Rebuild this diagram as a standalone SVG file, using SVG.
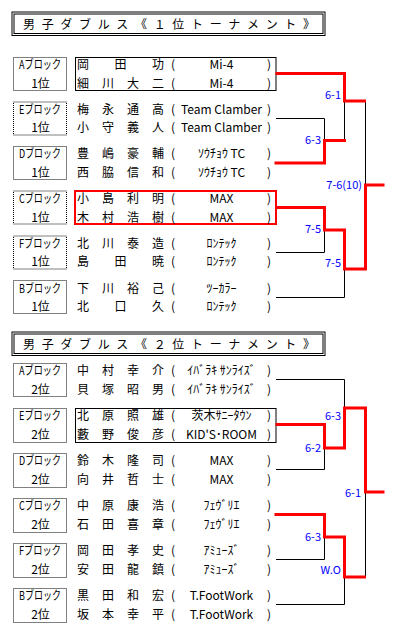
<svg xmlns="http://www.w3.org/2000/svg" width="407" height="631" viewBox="0 0 407 631">
<style>
text{font-family:"Noto Sans CJK JP","Noto Sans",sans-serif;font-size:12px;fill:#000}
.c{text-anchor:middle}
.lb{fill:none;stroke:#000;stroke-width:1;stroke-dasharray:1 1}
.bx{fill:none;stroke:#000;stroke-width:1}
.rbx{fill:none;stroke:#f00;stroke-width:2}
.tb{fill:none;stroke:#000;stroke-width:1}
.k{fill:none;stroke:#000;stroke-width:1}
.r{fill:none;stroke:#f00;stroke-width:3;stroke-linejoin:miter;stroke-linecap:square}
.sc{font-size:11px;fill:#00f;text-anchor:end}
</style>

<g id="title1">
<rect class="tb" x="12" y="12" width="313" height="23.5"/>
<rect class="tb" x="14" y="14" width="309" height="19.5"/>
<text x="23" y="28.5" textLength="292" lengthAdjust="spacing">男 子 ダ ブ ル ス 《 １ 位 ト ー ナ メ ン ト 》</text>
</g>

<g id="s1-A">
<rect class="lb" x="13.5" y="57.5" width="53" height="33"/>
<text class="c" x="40" y="69" textLength="42" lengthAdjust="spacingAndGlyphs">Aブロック</text>
<text class="c" x="40.5" y="87.5">1位</text>
<rect class="bx" x="75.5" y="57.5" width="200.5" height="33"/>
<text x="77" y="69" textLength="87">岡　田　功</text>
<text y="69"><tspan x="171">(</tspan><tspan class="c" x="221.5">Mi-4</tspan><tspan x="267">)</tspan></text>
<text x="77" y="87.5" textLength="87">細　川　大　二</text>
<text y="87.5"><tspan x="171">(</tspan><tspan class="c" x="221.5">Mi-4</tspan><tspan x="267">)</tspan></text>
</g>

<g id="s1-E">
<rect class="lb" x="13.5" y="102" width="53" height="33"/>
<text class="c" x="40" y="113.7" textLength="42" lengthAdjust="spacingAndGlyphs">Eブロック</text>
<text class="c" x="40.5" y="132.2">1位</text>
<text x="77" y="113.7" textLength="87">梅　永　通　高</text>
<text y="113.7"><tspan x="171">(</tspan><tspan class="c" x="221.5">Team Clamber</tspan><tspan x="267">)</tspan></text>
<text x="77" y="132.2" textLength="87">小　守　義　人</text>
<text y="132.2"><tspan x="171">(</tspan><tspan class="c" x="221.5">Team Clamber</tspan><tspan x="267">)</tspan></text>
</g>

<g id="s1-D">
<rect class="lb" x="13.5" y="146.5" width="53" height="33"/>
<text class="c" x="40" y="158.4" textLength="42" lengthAdjust="spacingAndGlyphs">Dブロック</text>
<text class="c" x="40.5" y="176.9">1位</text>
<text x="77" y="158.4" textLength="87">豊　嶋　豪　輔</text>
<text y="158.4"><tspan x="171">(</tspan><tspan class="c" x="221.5">ｿｳﾁｮｳ TC</tspan><tspan x="267">)</tspan></text>
<text x="77" y="176.9" textLength="87">西　脇　信　和</text>
<text y="176.9"><tspan x="171">(</tspan><tspan class="c" x="221.5">ｿｳﾁｮｳ TC</tspan><tspan x="267">)</tspan></text>
</g>

<g id="s1-C">
<rect class="lb" x="13.5" y="191" width="53" height="33"/>
<text class="c" x="40" y="203" textLength="42" lengthAdjust="spacingAndGlyphs">Cブロック</text>
<text class="c" x="40.5" y="221.5">1位</text>
<rect class="rbx" x="75" y="191" width="201" height="33"/>
<text x="77" y="203" textLength="87">小　島　利　明</text>
<text y="203"><tspan x="171">(</tspan><tspan class="c" x="221.5">MAX</tspan><tspan x="267">)</tspan></text>
<text x="77" y="221.5" textLength="87">木　村　浩　樹</text>
<text y="221.5"><tspan x="171">(</tspan><tspan class="c" x="221.5">MAX</tspan><tspan x="267">)</tspan></text>
</g>

<g id="s1-F">
<rect class="lb" x="13.5" y="236" width="53" height="33"/>
<text class="c" x="40" y="247.8" textLength="42" lengthAdjust="spacingAndGlyphs">Fブロック</text>
<text class="c" x="40.5" y="266.3">1位</text>
<text x="77" y="247.8" textLength="87">北　川　泰　造</text>
<text y="247.8"><tspan x="171">(</tspan><tspan class="c" x="221.5">ﾛﾝﾃｯｸ</tspan><tspan x="267">)</tspan></text>
<text x="77" y="266.3" textLength="87">島　田　暁</text>
<text y="266.3"><tspan x="171">(</tspan><tspan class="c" x="221.5">ﾛﾝﾃｯｸ</tspan><tspan x="267">)</tspan></text>
</g>

<g id="s1-B">
<rect class="lb" x="13.5" y="280.5" width="53" height="33"/>
<text class="c" x="40" y="292.5" textLength="42" lengthAdjust="spacingAndGlyphs">Bブロック</text>
<text class="c" x="40.5" y="311">1位</text>
<text x="77" y="292.5" textLength="87">下　川　裕　己</text>
<text y="292.5"><tspan x="171">(</tspan><tspan class="c" x="221.5">ﾂｰｶﾗｰ</tspan><tspan x="267">)</tspan></text>
<text x="77" y="311" textLength="87">北　口　久</text>
<text y="311"><tspan x="171">(</tspan><tspan class="c" x="221.5">ﾛﾝﾃｯｸ</tspan><tspan x="267">)</tspan></text>
</g>

<g id="title2">
<rect class="tb" x="12" y="332" width="313" height="23.5"/>
<rect class="tb" x="14" y="334" width="309" height="19.5"/>
<text x="23" y="348.5" textLength="292" lengthAdjust="spacing">男 子 ダ ブ ル ス 《 ２ 位 ト ー ナ メ ン ト 》</text>
</g>

<g id="s2-A">
<rect class="lb" x="13.5" y="363.5" width="53" height="33"/>
<text class="c" x="40" y="375" textLength="42" lengthAdjust="spacingAndGlyphs">Aブロック</text>
<text class="c" x="40.5" y="393.5">2位</text>
<text x="77" y="375" textLength="87">中　村　幸　介</text>
<text y="375"><tspan x="171">(</tspan><tspan class="c" x="221.5">ｲﾊﾞﾗｷ ｻﾝﾗｲｽﾞ</tspan><tspan x="267">)</tspan></text>
<text x="77" y="393.5" textLength="87">貝　塚　昭　男</text>
<text y="393.5"><tspan x="171">(</tspan><tspan class="c" x="221.5">ｲﾊﾞﾗｷ ｻﾝﾗｲｽﾞ</tspan><tspan x="267">)</tspan></text>
</g>

<g id="s2-E">
<rect class="lb" x="13.5" y="408.5" width="53" height="34"/>
<text class="c" x="40" y="420" textLength="42" lengthAdjust="spacingAndGlyphs">Eブロック</text>
<text class="c" x="40.5" y="438.5">2位</text>
<rect class="bx" x="75.5" y="408.5" width="200.5" height="34"/>
<text x="77" y="420" textLength="87">北　原　照　雄</text>
<text y="420"><tspan x="171">(</tspan><tspan class="c" x="221.5">茨木ｻﾆｰﾀｳﾝ</tspan><tspan x="267">)</tspan></text>
<text x="77" y="438.5" textLength="87">藪　野　俊　彦</text>
<text y="438.5"><tspan x="171">(</tspan><tspan class="c" x="221.5">KID'S･ROOM</tspan><tspan x="267">)</tspan></text>
</g>

<g id="s2-D">
<rect class="lb" x="13.5" y="453.5" width="53" height="34"/>
<text class="c" x="40" y="465" textLength="42" lengthAdjust="spacingAndGlyphs">Dブロック</text>
<text class="c" x="40.5" y="483.5">2位</text>
<text x="77" y="465" textLength="87">鈴　木　隆　司</text>
<text y="465"><tspan x="171">(</tspan><tspan class="c" x="221.5">MAX</tspan><tspan x="267">)</tspan></text>
<text x="77" y="483.5" textLength="87">向　井　哲　士</text>
<text y="483.5"><tspan x="171">(</tspan><tspan class="c" x="221.5">MAX</tspan><tspan x="267">)</tspan></text>
</g>

<g id="s2-C">
<rect class="lb" x="13.5" y="498.5" width="53" height="34"/>
<text class="c" x="40" y="510" textLength="42" lengthAdjust="spacingAndGlyphs">Cブロック</text>
<text class="c" x="40.5" y="528.5">2位</text>
<text x="77" y="510" textLength="87">中　原　康　浩</text>
<text y="510"><tspan x="171">(</tspan><tspan class="c" x="221.5">ﾌｪｳﾞﾘｴ</tspan><tspan x="267">)</tspan></text>
<text x="77" y="528.5" textLength="87">石　田　喜　章</text>
<text y="528.5"><tspan x="171">(</tspan><tspan class="c" x="221.5">ﾌｪｳﾞﾘｴ</tspan><tspan x="267">)</tspan></text>
</g>

<g id="s2-F">
<rect class="lb" x="13.5" y="543.5" width="53" height="34"/>
<text class="c" x="40" y="555" textLength="42" lengthAdjust="spacingAndGlyphs">Fブロック</text>
<text class="c" x="40.5" y="573.5">2位</text>
<text x="77" y="555" textLength="87">岡　田　孝　史</text>
<text y="555"><tspan x="171">(</tspan><tspan class="c" x="221.5">ｱﾐｭｰｽﾞ</tspan><tspan x="267">)</tspan></text>
<text x="77" y="573.5" textLength="87">安　田　龍　鎮</text>
<text y="573.5"><tspan x="171">(</tspan><tspan class="c" x="221.5">ｱﾐｭｰｽﾞ</tspan><tspan x="267">)</tspan></text>
</g>

<g id="s2-B">
<rect class="lb" x="13.5" y="588.5" width="53" height="34"/>
<text class="c" x="40" y="600" textLength="42" lengthAdjust="spacingAndGlyphs">Bブロック</text>
<text class="c" x="40.5" y="618.5">2位</text>
<text x="77" y="600" textLength="87">黒　田　和　宏</text>
<text y="600"><tspan x="171">(</tspan><tspan class="c" x="221.5">T.FootWork</tspan><tspan x="267">)</tspan></text>
<text x="77" y="618.5" textLength="87">坂　本　幸　平</text>
<text y="618.5"><tspan x="171">(</tspan><tspan class="c" x="221.5">T.FootWork</tspan><tspan x="267">)</tspan></text>
</g>

<g id="connectors">
<path class="k" d="M276 118.5H324.5V140.5"/>
<path class="k" d="M344.5 101V140.5"/>
<path class="k" d="M276 252.5H324.5V230"/>
<path class="k" d="M276 297.5H344.5V269"/>
<path class="k" d="M365.5 101V185"/>
<path class="r" d="M277 73.5H344.5V101H364.5"/>
<path class="r" d="M276 163H324.5V140.5H344.5"/>
<path class="r" d="M277 207.5H324.5V230H344.5V269H365.5V185H383"/>

<path class="k" d="M276 379.5H344.5V408"/>
<path class="k" d="M276 469.5H324.5V448"/>
<path class="k" d="M276 559.5H324.5V537"/>
<path class="k" d="M276 604.5H344.5V577"/>
<path class="k" d="M365.5 492V577"/>
<path class="r" d="M277 424.5H324.5V448H344.5V408H365.5V492H383"/>
<path class="r" d="M276 514.5H324.5V537H344.5V577H364.5"/>
</g>

<g id="scores">
<text class="sc" x="341" y="99">6-1</text>
<text class="sc" x="321" y="144">6-3</text>
<text class="sc" x="362" y="189">7-6(10)</text>
<text class="sc" x="321" y="233">7-5</text>
<text class="sc" x="341" y="266.5">7-5</text>
<text class="sc" x="341" y="419.5">6-3</text>
<text class="sc" x="321" y="451.5">6-2</text>
<text class="sc" x="361" y="496.5">6-1</text>
<text class="sc" x="321" y="541">6-3</text>
<text class="sc" x="341" y="574">W.O</text>
</g>
</svg>
